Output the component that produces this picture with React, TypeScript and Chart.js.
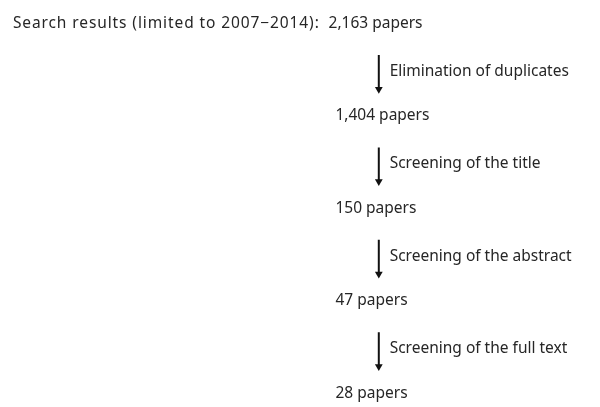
import React, { useEffect, useRef } from "react";
import { Chart, registerables } from "chart.js";

Chart.register(...registerables);

// ---- data ----
const searchLabel = "Search results (limited to 2007\u22122014):";
const paperCounts = [2163, 1404, 150, 47, 28];
const stepNotes = [
  "Elimination of duplicates",
  "Screening of the title",
  "Screening of the abstract",
  "Screening of the full text",
];
const countSuffix = "papers";

// ---- layout / style (not data) ----
const FONT = '"Noto Sans", "Open Sans", sans-serif';
const FONT_SIZE = 15.5;
const TEXT_COLOR = "#262626";
const ARROW_COLOR = "#111111";
const TITLE_END_X = 320;
const FIRST_COUNT_X = 329;
const COUNT_X = 336;
const ARROW_X = 380;
const NOTE_X = 391;
const ARROW_START = 0.34;
const ARROW_END = 0.71;
const NOTE_Y = 0.52;

const fmt = (n: number) => n.toLocaleString("en-US") + " " + countSuffix;

const textPlugin = {
  id: "flowText",
  afterDatasetsDraw(chart: any) {
    const { ctx, scales } = chart;
    const xs = scales.x;
    const ys = scales.y;
    ctx.save();
    ctx.font = `${FONT_SIZE}px ${FONT}`;
    ctx.fillStyle = TEXT_COLOR;
    ctx.textBaseline = "middle";
    paperCounts.forEach((c, i) => {
      const y = ys.getPixelForValue(i);
      if (i === 0) {
        ctx.save();
        ctx.textAlign = "right";
        try {
          (ctx as any).letterSpacing = "0.9px";
        } catch (e) {}
        ctx.fillText(searchLabel, xs.getPixelForValue(TITLE_END_X), y);
        ctx.restore();
        ctx.font = `${FONT_SIZE}px ${FONT}`;
        ctx.fillStyle = TEXT_COLOR;
        ctx.textBaseline = "middle";
      }
      ctx.textAlign = "left";
      ctx.fillText(fmt(c), xs.getPixelForValue(i === 0 ? FIRST_COUNT_X : COUNT_X), y);
    });
    stepNotes.forEach((note, i) => {
      const y = ys.getPixelForValue(i + NOTE_Y);
      ctx.textAlign = "left";
      ctx.fillText(note, xs.getPixelForValue(NOTE_X), y);
    });
    ctx.restore();
  },
};

export default function App() {
  const ref = useRef<HTMLCanvasElement | null>(null);
  useEffect(() => {
    if (!ref.current) return;
    const datasets = stepNotes.map((_, i) => ({
      type: "line" as const,
      data: [
        { x: ARROW_X, y: i + ARROW_START },
        { x: ARROW_X, y: i + ARROW_END },
      ],
      borderColor: ARROW_COLOR,
      backgroundColor: ARROW_COLOR,
      borderWidth: 2,
      showLine: true,
      pointStyle: "triangle" as const,
      pointRadius: [0, 4.5],
      pointRotation: 180,
      pointBorderWidth: 0,
      pointBackgroundColor: ARROW_COLOR,
    }));
    const rowGap = 94.5;
    const minY = -19.5 / rowGap;
    const maxY = minY + 407 / rowGap;
    const chart = new Chart(ref.current, {
      type: "scatter",
      data: { datasets },
      options: {
        animation: false,
        responsive: false,
        layout: { padding: 0 },
        plugins: { legend: { display: false }, tooltip: { enabled: false } },
        scales: {
          x: { type: "linear", min: 0, max: 600, display: false },
          y: { type: "linear", min: minY, max: maxY, reverse: true, display: false },
        },
      },
      plugins: [textPlugin],
    });
    return () => chart.destroy();
  }, []);
  return (
    <div style={{ position: "absolute", left: 0, top: 0, width: 600, height: 407, background: "#fff" }}>
      <canvas ref={ref} width={600} height={407} style={{ display: "block" }} />
    </div>
  );
}
